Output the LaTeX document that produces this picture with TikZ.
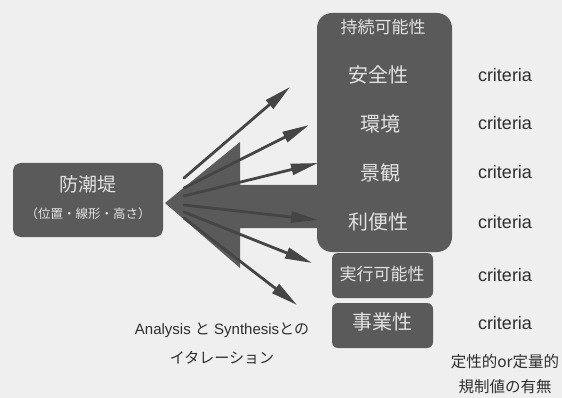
\documentclass[tikz,border=0pt]{standalone}
\usepackage{fontspec}
\setmainfont{Liberation Sans}
\newfontfamily\jp{Noto Sans CJK JP}
\usetikzlibrary{arrows.meta}
\definecolor{bg}{HTML}{EFEFEF}
\definecolor{boxc}{HTML}{5A5A5A}
\definecolor{arrc}{HTML}{454545}
\definecolor{txtin}{HTML}{E2E2E2}
\definecolor{txtout}{HTML}{2E2E2E}
\begin{document}
\begin{tikzpicture}[x=1pt,y=-1pt,
  darkbox/.style={fill=boxc, draw=none, inner sep=0pt},
  intext/.style={text=txtin, inner sep=0pt, font=\jp\fontsize{19}{19}\selectfont},
  crit/.style={text=txtout, inner sep=0pt, font=\fontsize{18}{18}\selectfont},
  note/.style={text=txtout, inner sep=0pt, font=\jp\fontsize{15}{15}\selectfont},
  fanarrow/.style={draw=arrc, line width=2.8pt, line cap=round,
    -{Triangle[length=27pt,width=11pt]}}
]
\fill[bg] (0,0) rectangle (562,398);
\useasboundingbox (0,0) rectangle (562,398);

% boxes
\node[darkbox, rounded corners=8pt, minimum width=150pt, minimum height=74pt] (dam) at (88,200) {};
\node[darkbox, rounded corners=15pt, minimum width=135pt, minimum height=239pt] (sus) at (384.5,132.5) {};
\node[darkbox, rounded corners=6pt, minimum width=101pt, minimum height=45pt] (feas) at (382.5,275.5) {};
\node[darkbox, rounded corners=6pt, minimum width=101pt, minimum height=45pt] (biz) at (382.5,325.5) {};

% fan wedge
\fill[boxc] (165,203) -- (240,142) -- (240,185) -- (322,185) -- (322,228)
  -- (240,228) -- (240,268) -- cycle;

% texts in boxes
\node[intext] (damt) at (88,184) {防潮堤};
\node[intext, font=\jp\fontsize{12.5}{12.5}\selectfont] (dams) at (88,214) {（位置・線形・高さ）};
\node[intext, font=\jp\fontsize{17}{17}\selectfont] (sust) at (383,27) {持続可能性};
\node[intext, font=\jp\fontsize{20}{20}\selectfont] (safe) at (378,75) {安全性};
\node[intext, font=\jp\fontsize{20}{20}\selectfont] (env) at (380,124) {環境};
\node[intext, font=\jp\fontsize{20}{20}\selectfont] (land) at (380,173) {景観};
\node[intext, font=\jp\fontsize{20}{20}\selectfont] (conv) at (378,222) {利便性};
\node[intext, font=\jp\fontsize{17}{17}\selectfont] (feast) at (382,274) {実行可能性};
\node[intext, font=\jp\fontsize{20}{20}\selectfont] (bizt) at (382,322) {事業性};

% criteria
\node[crit] (c1) at (505,75) {criteria};
\node[crit] (c2) at (505,123) {criteria};
\node[crit] (c3) at (505,172) {criteria};
\node[crit] (c4) at (505,222) {criteria};
\node[crit] (c5) at (505,275) {criteria};
\node[crit] (c6) at (505,323) {criteria};

% notes
\node[note, font=\fontsize{15}{15}\selectfont] (an1) at (222,330) {Analysis {\jp と} Synthesis{\jp との}};
\node[note] (an2) at (222,358) {イタレーション};
\node[note, font=\jp\fontsize{15.5}{15.5}\selectfont] (q1) at (505,362) {定性的or定量的};
\node[note, font=\jp\fontsize{15.5}{15.5}\selectfont] (q2) at (505,387) {規制値の有無};

% arrows
\coordinate (s1) at (184,178); \coordinate (e1) at (290,87);
\coordinate (s2) at (184,188); \coordinate (e2) at (309,125);
\coordinate (s3) at (184,196); \coordinate (e3) at (318,163);
\coordinate (s4) at (184,205); \coordinate (e4) at (318,220);
\coordinate (s5) at (184,212); \coordinate (e5) at (312,263);
\coordinate (s6) at (184,218); \coordinate (e6) at (297,305);
\foreach \i in {1,...,6} {\draw[fanarrow] (s\i) -- (e\i);}
\end{tikzpicture}
\end{document}
